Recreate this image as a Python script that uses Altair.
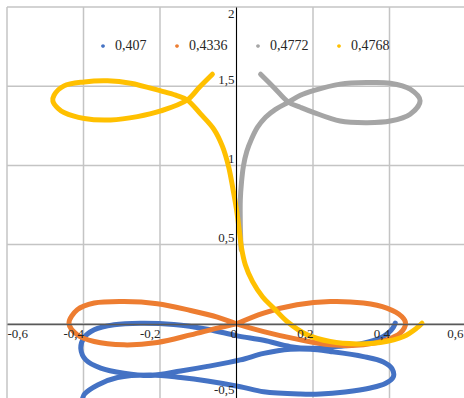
import altair as alt
import pandas as pd

series_names = ["0,407", "0,4336", "0,4772", "0,4768"]
series_colors = ["#4472C4", "#ED7D31", "#A5A5A5", "#FFC000"]

blue_x = [0.415, 0.410, 0.397, 0.376, 0.332, 0.284, 0.245, 0.193, 0.141, 0.071, 0.002, -0.076, -0.164,
          -0.251, -0.320, -0.372, -0.399, -0.407, -0.394, -0.355, -0.294, -0.224, -0.146, -0.076, 0.010,
          0.071, 0.141, 0.193, 0.245, 0.332, 0.384, 0.407, 0.410, 0.389, 0.350, 0.284, 0.219, 0.167, 0.071,
          0.010, -0.076, -0.146, -0.224, -0.311, -0.363, -0.397, -0.402]
blue_y = [0.004, -0.022, -0.057, -0.089, -0.122, -0.139, -0.146, -0.155, -0.144, -0.104, -0.076, -0.034,
          -0.004, 0.004, -0.006, -0.038, -0.089, -0.158, -0.228, -0.280, -0.312, -0.326, -0.298, -0.269,
          -0.228, -0.187, -0.161, -0.161, -0.175, -0.207, -0.241, -0.285, -0.335, -0.377, -0.405, -0.430,
          -0.443, -0.443, -0.429, -0.397, -0.361, -0.339, -0.323, -0.339, -0.386, -0.443, -0.468]

orange_x = [0.0, 0.071, 0.158, 0.245, 0.332, 0.393, 0.432, 0.442, 0.428, 0.393, 0.332, 0.245, 0.158, 0.071,
            0.0, -0.050, -0.120, -0.207, -0.294, -0.372, -0.416, -0.438, -0.416, -0.372, -0.294, -0.207,
            -0.120, -0.050, 0.0]
orange_y = [0.0, 0.068, 0.120, 0.141, 0.131, 0.099, 0.046, 0.004, -0.059, -0.101, -0.133, -0.133, -0.097,
            -0.049, 0.0, 0.042, 0.084, 0.127, 0.141, 0.131, 0.089, 0.004, -0.070, -0.112, -0.133, -0.118,
            -0.070, -0.027, 0.0]

gray_x = [0.012, 0.010, 0.010, 0.013, 0.018, 0.027, 0.039, 0.055, 0.076, 0.102, 0.136, 0.167, 0.201, 0.271,
          0.342, 0.402, 0.454, 0.480, 0.454, 0.402, 0.342, 0.271, 0.201, 0.167, 0.136, 0.097, 0.063]
gray_y = [0.468, 0.627, 0.785, 0.892, 0.994, 1.089, 1.165, 1.241, 1.304, 1.354, 1.399, 1.443, 1.472, 1.513,
          1.523, 1.519, 1.481, 1.408, 1.323, 1.280, 1.270, 1.280, 1.335, 1.367, 1.399, 1.494, 1.576]

yellow_x = [-0.063, -0.097, -0.129, -0.198, -0.259, -0.329, -0.398, -0.451, -0.467, -0.480, -0.477, -0.451,
            -0.398, -0.337, -0.277, -0.198, -0.159, -0.129, -0.094, -0.059, -0.037, -0.021, -0.009, 0.000,
            0.007, 0.013, 0.023, 0.042, 0.068, 0.099, 0.133, 0.185, 0.245, 0.315, 0.376, 0.437, 0.471, 0.485]
yellow_y = [1.576, 1.494, 1.413, 1.344, 1.308, 1.287, 1.296, 1.334, 1.361, 1.405, 1.443, 1.502, 1.527, 1.534,
            1.519, 1.470, 1.443, 1.413, 1.325, 1.228, 1.122, 0.996, 0.848, 0.722, 0.595, 0.481, 0.373, 0.266,
            0.171, 0.095, 0.013, -0.070, -0.112, -0.127, -0.118, -0.080, -0.027, 0.004]

x_ticks = [-0.6, -0.4, -0.2, 0, 0.2, 0.4, 0.6]
y_ticks = [-0.5, 0, 0.5, 1, 1.5, 2]
y_label_ticks = [-0.5, 0.5, 1, 1.5, 2]

GRID = "#c4c4c4"
FONT = "Liberation Serif"
LABEL_EXPR = "replace('' + datum.value, '.', ',')"

xscale = alt.Scale(domain=[-0.6, 0.6], range=[0, 459], nice=False, zero=False)
yscale = alt.Scale(domain=[-0.5, 2], range=[396, 0], nice=False, zero=False)
cscale = alt.Scale(domain=series_names, range=series_colors)

x_axis = alt.Axis(values=x_ticks, grid=False, ticks=False, tickSize=0, domainColor="#595959",
                  domainWidth=1.5, labelFont=FONT, labelFontSize=13, labelColor="#262626",
                  labelAlign={"condition": {"test": "datum.value < -0.55", "value": "left"}, "value": "right"},
                  labelOffset={"condition": {"test": "datum.value > 0.55", "value": -3}, "value": 0},
                  labelBaseline="top", labelPadding=3, labelExpr=LABEL_EXPR, offset=-74, zindex=1,
                  title=None, labelFlush=False, labelOverlap=False)
y_axis = alt.Axis(values=y_label_ticks, grid=False, ticks=False, tickSize=0, domainColor="#000000",
                  domainWidth=1, labelFont=FONT, labelFontSize=13, labelColor="#262626",
                  labelAlign="right",
                  labelBaseline={"condition": {"test": "datum.value > 1.9", "value": "top"}, "value": "bottom"},
                  labelOffset={"condition": {"test": "datum.value < -0.45", "value": -7}, "value": 0},
                  labelPadding=2, labelExpr=LABEL_EXPR, offset=-229, zindex=1,
                  title=None, labelFlush=False, labelOverlap=False)

vgrid = alt.Chart(pd.DataFrame({"v": x_ticks})).mark_rule(color=GRID, strokeWidth=1.5).encode(
    x=alt.X("v:Q", scale=xscale, axis=x_axis))
hgrid = alt.Chart(pd.DataFrame({"v": y_ticks})).mark_rule(color=GRID, strokeWidth=1.5).encode(
    y=alt.Y("v:Q", scale=yscale, axis=y_axis))

legend = alt.Legend(orient="none", legendX=89, legendY=32, direction="horizontal", symbolType="circle",
                    symbolSize=3, symbolStrokeWidth=2, labelFont=FONT, labelFontSize=14,
                    labelColor="#262626", columnPadding=23, labelOffset=5, padding=0, title=None)


def line_layer(name, xs, ys):
    df = pd.DataFrame({"x": xs, "y": ys, "i": list(range(len(xs))), "series": name})
    return alt.Chart(df).mark_line(strokeWidth=5, strokeCap="round", strokeJoin="round",
                                   interpolate="catmull-rom").encode(
        x=alt.X("x:Q", scale=xscale, axis=x_axis),
        y=alt.Y("y:Q", scale=yscale, axis=y_axis),
        order="i:Q",
        color=alt.Color("series:N", scale=cscale, legend=legend),
    )


layers = [
    line_layer(series_names[0], blue_x, blue_y),
    line_layer(series_names[1], orange_x, orange_y),
    line_layer(series_names[2], gray_x, gray_y),
    line_layer(series_names[3], yellow_x, yellow_y),
]

chart = alt.layer(vgrid, hgrid, *layers).properties(
    width=457, height=391,
    autosize=alt.AutoSizeParams(type="none"),
    padding={"left": 7, "top": 7, "right": 0, "bottom": 0},
    background="white",
).configure_view(stroke=None)

chart.save("out.html", embed_options={"renderer": "svg", "actions": False})
